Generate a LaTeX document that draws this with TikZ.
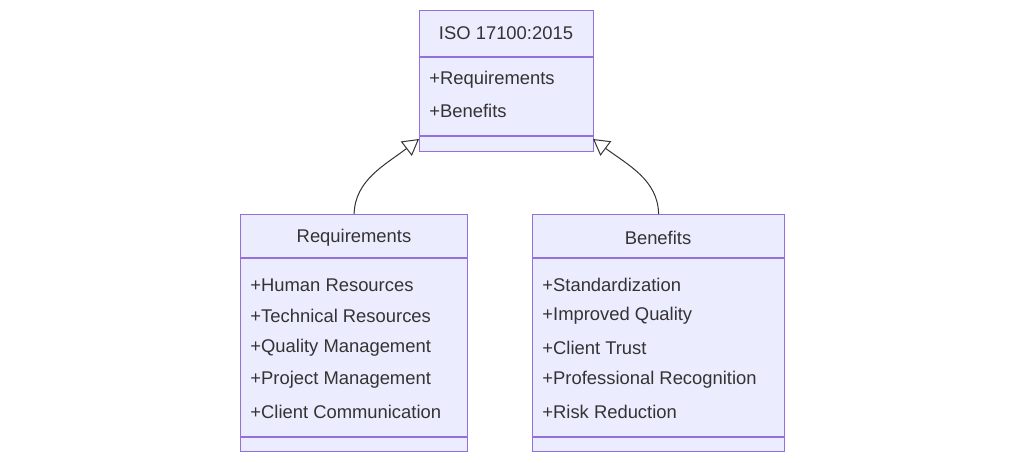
\documentclass[tikz,border=0pt]{standalone}
\usepackage{fontspec}
\setmainfont{Liberation Sans}
\usetikzlibrary{arrows.meta,positioning}
\definecolor{classfill}{HTML}{ECECFF}
\definecolor{classline}{HTML}{9370DB}
\definecolor{classtext}{HTML}{333333}
\begin{document}
\begin{tikzpicture}[
        x=0.5pt, y=-0.5pt,
        font=\fontsize{9.2}{11}\selectfont,
        box/.style={draw=classline,fill=classfill,line width=0.6pt,inner sep=0pt,anchor=north west},
        attr/.style={anchor=west,text=classtext,inner sep=0pt},
        title/.style={text=classtext,inner sep=0pt},
        inherit/.style={-{Triangle[open,length=8pt,width=9pt]},draw=classtext,line width=0.5pt}
    ]
        \useasboundingbox (0,0) rectangle (1024,462);

        % top class
        \node[box,minimum width=87pt,minimum height=70.5pt] (iso) at (419,10) {};
        \draw[classline,line width=0.6pt] (419,57) -- (593,57) (419,136) -- (593,136);
        \node[title] (isoT) at (506,33) {ISO 17100:2015};
        \node[attr] (isoA) at (429,80) {+Requirements};
        \node[attr] (isoB) at (429,111) {+Benefits};

        % left class
        \node[box,minimum width=113.5pt,minimum height=118.5pt] (req) at (240,214) {};
        \draw[classline,line width=0.6pt] (240,258) -- (467,258) (240,437) -- (467,437);
        \node[title] (reqT) at (354,238) {Requirements};
        \node[attr] (reqA) at (250,285) {+Human Resources};
        \node[attr] (reqB) at (250,316) {+Technical Resources};
        \node[attr] (reqC) at (250,348) {+Quality Management};
        \node[attr] (reqD) at (250,380) {+Project Management};
        \node[attr] (reqE) at (250,412) {+Client Communication};

        % right class
        \node[box,minimum width=126pt,minimum height=118.5pt] (ben) at (532,214) {};
        \draw[classline,line width=0.6pt] (532,258) -- (784,258) (532,437) -- (784,437);
        \node[title] (benT) at (658,238) {Benefits};
        \node[attr] (benA) at (542,285) {+Standardization};
        \node[attr] (benB) at (542,316) {+Improved Quality};
        \node[attr] (benC) at (542,348) {+Client Trust};
        \node[attr] (benD) at (542,380) {+Professional Recognition};
        \node[attr] (benE) at (542,412) {+Risk Reduction};

        % inheritance
        \coordinate (tipL) at (419,139);
        \coordinate (tipR) at (593,139);
        \draw[inherit] (req.north) .. controls (355,180) and (385,165) .. (tipL);
        \draw[inherit] (ben.north) .. controls (658,180) and (628,165) .. (tipR);
    \end{tikzpicture}
\end{document}
